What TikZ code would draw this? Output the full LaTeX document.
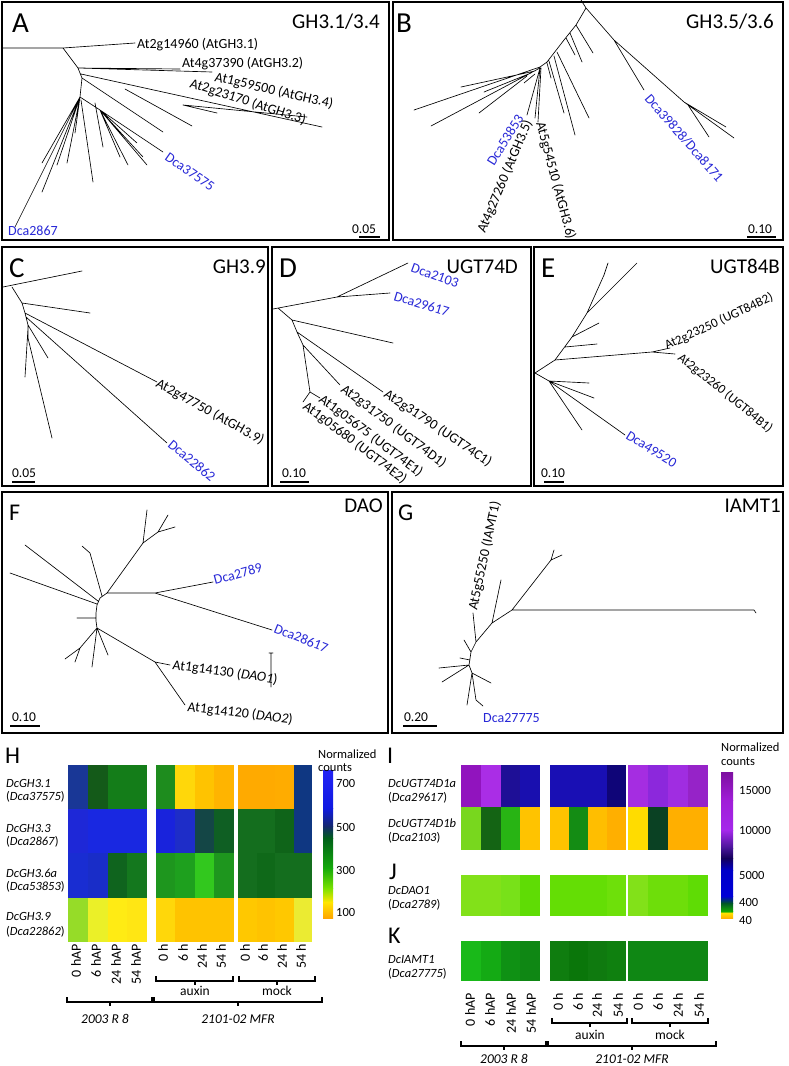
\documentclass[tikz,border=0pt]{standalone}
\usepackage{fontspec}
\setmainfont{Carlito}
\definecolor{dcablue}{RGB}{40,40,215}
\newcommand\hmq[8]{%
 \definecolor{hqa}{RGB}{#5}\definecolor{hqb}{RGB}{#6}\definecolor{hqc}{RGB}{#7}\definecolor{hqd}{RGB}{#8}%
 \fill[hqa] (#1,#3) rectangle ++(#2+0.3,#4-#3);%
 \fill[hqb] (#1+#2,#3) rectangle ++(#2+0.3,#4-#3);%
 \fill[hqc] (#1+2*#2,#3) rectangle ++(#2+0.3,#4-#3);%
 \fill[hqd] (#1+3*#2,#3) rectangle ++(#2,#4-#3);}
\newcommand\cbseg[6]{%
 \definecolor{cba}{RGB}{#5}\definecolor{cbb}{RGB}{#6}%
 \shade[top color=cba,bottom color=cbb] (#1,#3) rectangle (#2,#4+0.3);}
\newcommand\brkt[4]{% x1 x2 y mid
 \draw[brk] (#1,#3-5)--(#1,#3)--(#2,#3)--(#2,#3-5) (#4,#3)--(#4,#3+4);}
\tikzset{
 tr/.style={line width=0.65pt, draw=black, line cap=round},
 box/.style={line width=1.6pt, draw=black},
 plet/.style={font=\fontsize{29}{29}\selectfont, anchor=base west, inner sep=0pt},
 plets/.style={font=\fontsize{24}{24}\selectfont, anchor=base west, inner sep=0pt},
 ttl/.style={font=\fontsize{21}{21}\selectfont, anchor=base east, inner sep=0pt},
 lf/.style={font=\fontsize{14}{14}\selectfont, anchor=base west, inner sep=0pt},
 lfs/.style={font=\fontsize{13}{13}\selectfont, anchor=base west, inner sep=0pt},
 dca/.style={lf, text=dcablue},
 sb/.style={font=\fontsize{13.5}{13.5}\selectfont, anchor=base, inner sep=0pt},
 sbar/.style={line width=2pt},
 rl/.style={font=\fontsize{12.5}{12.5}\selectfont, anchor=base west, inner sep=0pt},
 ax/.style={font=\fontsize{14}{14}\selectfont, rotate=90, anchor=east, inner sep=0pt},
 cb/.style={font=\fontsize{12.5}{12.5}\selectfont, anchor=west, inner sep=0pt},
 brk/.style={line width=1.2pt},
 grp/.style={font=\fontsize{13.5}{13.5}\selectfont, anchor=base, inner sep=0pt},
}
\begin{document}
\begin{tikzpicture}[x=1pt,y=-1pt]
\useasboundingbox (0,0) rectangle (788,1066);
\fill[white] (0,0) rectangle (788,1066);
% ---------- panel boxes
\draw[box] (2,2) rectangle (389,240);
\draw[box] (393,2) rectangle (783,240);
\draw[box] (2,247) rectangle (268,486);
\draw[box] (272,247) rectangle (531,486);
\draw[box] (534,247) rectangle (783,486);
\draw[box] (2,492) rectangle (388,733);
\draw[box] (392,492) rectangle (783,733);
% ---------- A
\node[plet] (pA) at (12,32) {A};
\node[ttl] (tA) at (380,28) {GH3.1/3.4};
\draw[tr] (3,48)--(63,48)--(135,43)
 (63,48)--(78,68)--(180,69)
 (78,68)--(212,72)
 (78,68)--(82,78)--(80,97)
 (81,74)--(322,127)
 (183,105)--(307,117)
 (183,105)--(217,113)
 (125,89)--(192,126)
 (82,78)--(163,132)
 (80,97)--(100,110)
 (100,110)--(163,152) (100,110)--(147,165) (100,110)--(128,165) (100,110)--(143,157)
 (100,110)--(137,143) (100,110)--(120,157) (95,103)--(103,147)
 (80,97)--(15,227) (80,97)--(42,192) (80,97)--(42,163) (80,97)--(57,165)
 (80,97)--(67,163) (81,100)--(93,182) (80,97)--(75,133);
\node[lf] (a1) at (137,48) {At2g14960 (AtGH3.1)};
\node[lf] (a2) at (182,67) {At4g37390 (AtGH3.2)};
\node[lf,rotate=-13] (a3) at (214,81) {At1g59500 (AtGH3.4)};
\node[lf,rotate=-18] (a4) at (189,87) {At2g23170 (AtGH3.3)};
\node[dca,rotate=-35] (a5) at (164,159) {Dca37575};
\node[dca] (a6) at (8,235) {Dca2867};
\node[sb] (sA) at (364,233) {0.05};
\draw[sbar] (359,237)--(380,237);
% ---------- B
\node[plet] (pB) at (396,32) {B};
\node[ttl] (tB) at (774,28) {GH3.5/3.6};
\draw[tr] (581,0)--(586,8)
 (586,8)--(614,40)--(644,90)
 (614,40)--(684,102)--(734,138)
 (684,102)--(726,127) (688,105)--(709,137)
 (586,8)--(576,25)--(564,40)--(547,62)--(540,67)
 (576,25)--(593,53) (570,33)--(582,62) (566,38)--(575,55)
 (557,52)--(589,118) (554,56)--(575,135) (549,61)--(564,113) (547,63)--(551,78)
 (540,67)--(414,110) (540,68)--(431,126) (535,71)--(461,87) (531,73)--(484,92)
 (527,76)--(479,113) (535,74)--(524,83)
 (540,68)--(527,115) (540,68)--(535,118) (541,68)--(538,122);
\node[dca,rotate=58] (b1) at (494,167) {Dca53853};
\node[lf,rotate=67] (b2) at (485,234) {At4g27260 (AtGH3.5)};
\node[lf,rotate=-75] (b3) at (536,123) {At5g54510 (AtGH3.6)};
\node[dca,rotate=-49] (b4) at (644,99) {Dca39828/Dca8171};
\node[sb] (sB) at (760,233) {0.10};
\draw[sbar] (747,237)--(776,237);
% ---------- C
\node[plet] (pC) at (9,277) {C};
\node[ttl] (tC) at (266,273) {GH3.9};
\draw[tr] (3,287)--(82,271)
 (12,287)--(22,303)--(25,313)--(28,325)--(28,338)
 (22,303)--(90,313)
 (25,313)--(157,382)
 (26,317)--(167,443)
 (28,325)--(48,358)
 (28,328)--(25,377)
 (28,338)--(52,438);
\node[lf,rotate=-29] (c1) at (155,386) {At2g47750 (AtGH3.9)};
\node[dca,rotate=-40] (c2) at (167,446) {Dca22862};
\node[sb] (sC) at (24,477) {0.05};
\draw[sbar] (12,482)--(35,482);
% ---------- D
\node[plet] (pD) at (279,277) {D};
\node[ttl] (tD) at (518,273) {UGT74D};
\draw[tr] (273,309)--(337,297)--(408,263)
 (337,297)--(390,293)
 (278,308)--(292,320)--(297,332)--(303,345)--(310,392)
 (292,320)--(393,343)
 (297,332)--(383,392)
 (303,345)--(340,385)
 (310,392)--(320,398)
 (310,392)--(303,402);
\node[dca,rotate=-20] (d1) at (410,271) {Dca2103};
\node[dca,rotate=-17] (d2) at (393,300) {Dca29617};
\node[lf,rotate=-34] (d3) at (383,396) {At2g31790 (UGT74C1)};
\node[lf,rotate=-37] (d4) at (340,391) {At2g31750 (UGT74D1)};
\node[lf,rotate=-37] (d5) at (318,401) {At1g05675 (UGT74E1)};
\node[lf,rotate=-37] (d6) at (302,408) {At1g05680 (UGT74E2)};
\node[sb] (sD) at (294,477) {0.10};
\draw[sbar] (280,482)--(309,482);
% ---------- E
\node[plet] (pE) at (541,277) {E};
\node[ttl] (tE) at (780,273) {UGT84B};
\draw[tr] (535,373)--(555,360)--(572,337)--(587,313)--(604,275)--(608,263)
 (587,313)--(637,263)
 (572,337)--(599,323)
 (565,347)--(597,344)
 (555,360)--(652,352)--(670,348)
 (652,352)--(675,354)
 (535,373)--(549,381)--(589,383)
 (549,381)--(594,398)
 (549,381)--(582,430)
 (549,381)--(625,435);
\node[lfs,rotate=25] (e1) at (667,350) {At2g23250 (UGT84B2)};
\node[lfs,rotate=-39] (e2) at (677,359) {At2g23260 (UGT84B1)};
\node[dca,rotate=-32] (e3) at (625,438) {Dca49520};
\node[sb] (sE) at (553,477) {0.10};
\draw[sbar] (544,482)--(564,482);
% ---------- F
\node[plets] (pF) at (9,520) {F};
\node[ttl] (tF) at (383,512) {DAO};
\draw[tr] (107,593)--(100,598)--(97,605)--(96,613)--(96,621)--(97,628)
 (107,593)--(155,593)--(213,582)
 (155,593)--(272,630)
 (107,593)--(143,543)--(147,510)
 (143,543)--(158,532)--(168,515)
 (158,532)--(175,527)
 (102,596)--(90,553)--(82,546)
 (98,601)--(25,545)
 (97,604)--(10,573)
 (96,618)--(77,618)
 (97,628)--(155,662)--(170,665)
 (155,662)--(185,705)
 (97,628)--(108,655)
 (97,628)--(92,667)
 (97,628)--(80,648)--(65,659)
 (80,648)--(75,662)
 (271,653)--(271,687) (269,653)--(273,653);
\node[dca,rotate=15] (f1) at (215,585) {Dca2789};
\node[dca,rotate=-22] (f2) at (273,632) {Dca28617};
\node[lf,rotate=-8] (f3) at (172,669) {At1g14130 (\textit{DAO1})};
\node[lf,rotate=-7] (f4) at (187,711) {At1g14120 (\textit{DAO2})};
\node[sb] (sF) at (24,721) {0.10};
\draw[sbar] (10,726)--(40,726);
% ---------- G
\node[plets] (pG) at (398,520) {G};
\node[ttl] (tG) at (781,512) {IAMT1};
\draw[tr] (512,610)--(754,610)--(756,613)
 (512,610)--(551,560)--(554,550)
 (551,560)--(562,555)
 (512,610)--(492,623)--(476,642)--(471,652)--(469,665)--(472,673)
 (492,623)--(501,580)
 (476,642)--(473,613)
 (471,652)--(464,640)
 (469,665)--(439,668)
 (469,665)--(442,682)
 (470,660)--(460,658)
 (472,673)--(491,683)
 (472,673)--(476,700)--(483,706)
 (472,673)--(467,705);
\node[lf,rotate=78] (g1) at (477,611) {At5g55250 (IAMT1)};
\node[dca] (g2) at (483,722) {Dca27775};
\node[sb] (sG) at (416,721) {0.20};
\draw[sbar] (403,726)--(437,726);
% ---------- H heatmap
\node[plets] (pH) at (5,763) {H};
\hmq{68}{19.75}{765}{809}{25,55,150}{20,90,25}{20,125,25}{20,125,25}
\hmq{156}{19.4}{765}{809}{30,140,30}{255,215,10}{255,195,0}{255,180,0}
\hmq{238}{18.6}{765}{809}{255,170,0}{255,170,0}{255,172,0}{15,55,130}
\hmq{68}{19.75}{809}{853}{30,40,215}{25,40,225}{25,40,225}{25,40,225}
\hmq{156}{19.4}{809}{853}{25,35,220}{30,45,200}{20,70,70}{15,95,35}
\hmq{238}{18.6}{809}{853}{20,110,30}{20,110,30}{15,100,25}{15,55,130}
\hmq{68}{19.75}{853}{898}{25,45,210}{25,45,200}{15,100,30}{20,120,30}
\hmq{156}{19.4}{853}{898}{30,150,30}{30,160,30}{50,200,30}{30,150,30}
\hmq{238}{18.6}{853}{898}{20,110,30}{15,105,25}{20,110,30}{20,110,30}
\hmq{68}{19.75}{898}{942}{150,220,40}{235,240,40}{255,235,20}{255,230,20}
\hmq{156}{19.4}{898}{942}{255,215,10}{255,195,0}{255,195,0}{255,195,0}
\hmq{238}{18.6}{898}{942}{255,200,0}{255,195,0}{255,200,0}{235,235,50}
\node[rl] (h1) at (6,787) {\textit{DcGH3.1}};
\node[rl] (h1b) at (6,800) {(\textit{Dca37575})};
\node[rl] (h2) at (6,832) {\textit{DcGH3.3}};
\node[rl] (h2b) at (6,845) {(\textit{Dca2867})};
\node[rl] (h3) at (6,877) {\textit{DcGH3.6a}};
\node[rl] (h3b) at (6,890) {(\textit{Dca53853})};
\node[rl] (h4) at (6,920) {\textit{DcGH3.9}};
\node[rl] (h4b) at (6,935) {(\textit{Dca22862})};
% colour bar H
\cbseg{323}{333}{770}{808}{35,35,245}{15,25,225}
\cbseg{323}{333}{808}{826}{15,25,225}{20,40,110}
\cbseg{323}{333}{826}{838}{20,40,110}{0,95,25}
\cbseg{323}{333}{838}{868}{0,95,25}{20,170,10}
\cbseg{323}{333}{868}{888}{20,170,10}{120,225,0}
\cbseg{323}{333}{888}{902}{120,225,0}{255,230,0}
\cbseg{323}{333}{902}{918}{255,230,0}{255,165,0}
\node[cb] (hn) at (318,754) {Normalized};
\node[cb] (hc) at (318,768) {counts};
\node[cb] (h700) at (336,783) {700};
\node[cb] (h500) at (336,827) {500};
\node[cb] (h300) at (336,870) {300};
\node[cb] (h100) at (336,912) {100};
% axis H
\foreach \x/\t [count=\i] in {76/0 hAP,96/6 hAP,116/24 hAP,136/54 hAP,163/0 h,183/6 h,202/24 h,221/54 h,245/0 h,263/6 h,282/24 h,301/54 h}
 \node[ax] (hx\i) at (\x,944) {\t};
\brkt{156}{233}{981}{195}
\brkt{239}{315}{981}{277}
\node[grp] (hau) at (195,995) {auxin};
\node[grp] (hmo) at (277,995) {mock};
\brkt{67}{152}{1002}{110}
\brkt{154}{322}{1002}{238}
\node[grp] (hg1) at (105,1023) {\textit{2003 R 8}};
\node[grp] (hg2) at (238,1023) {\textit{2101-02 MFR}};
% ---------- I, J, K heatmaps
\node[plets] (pI) at (387,763) {I};
\node[plets] (pJ) at (389,879) {J};
\node[plets] (pK) at (388,943) {K};
\hmq{461}{19.75}{765}{807}{145,20,190}{170,45,230}{30,15,150}{25,15,175}
\hmq{550}{19}{765}{807}{25,15,180}{25,15,180}{25,15,180}{15,5,120}
\hmq{628}{20}{765}{807}{165,45,225}{140,40,220}{160,45,225}{150,35,200}
\hmq{461}{19.75}{807}{850}{120,215,30}{20,100,20}{40,180,20}{255,195,0}
\hmq{550}{19}{807}{850}{255,195,0}{20,140,20}{255,190,0}{255,175,0}
\hmq{628}{20}{807}{850}{255,220,0}{10,65,35}{255,175,0}{255,175,0}
\hmq{461}{19.75}{875}{916}{130,225,25}{130,225,25}{120,225,25}{95,220,5}
\hmq{550}{19}{875}{916}{100,222,5}{100,222,5}{100,222,5}{110,224,10}
\hmq{628}{20}{875}{916}{130,225,25}{110,222,10}{110,222,10}{95,220,5}
\hmq{461}{19.75}{941}{981}{25,185,25}{20,170,20}{15,145,20}{15,135,20}
\hmq{550}{19}{941}{981}{15,125,15}{10,118,10}{15,122,15}{15,128,15}
\hmq{628}{20}{941}{981}{15,135,20}{15,135,20}{15,135,20}{15,135,20}
\node[rl] (i1) at (388,787) {\textit{DcUGT74D1a}};
\node[rl] (i1b) at (388,801) {(\textit{Dca29617})};
\node[rl] (i2) at (388,827) {\textit{DcUGT74D1b}};
\node[rl] (i2b) at (388,841) {(\textit{Dca2103})};
\node[rl] (j1) at (388,894) {\textit{DcDAO1}};
\node[rl] (j1b) at (388,908) {(\textit{Dca2789})};
\node[rl] (k1) at (388,963) {\textit{DcIAMT1}};
\node[rl] (k1b) at (388,977) {(\textit{Dca27775})};
% colour bar I
\cbseg{721}{733}{772}{800}{125,15,160}{160,30,215}
\cbseg{721}{733}{800}{830}{160,30,215}{165,40,235}
\cbseg{721}{733}{830}{848}{165,40,235}{70,20,150}
\cbseg{721}{733}{848}{858}{70,20,150}{20,0,90}
\cbseg{721}{733}{858}{870}{20,0,90}{0,0,200}
\cbseg{721}{733}{870}{896}{0,0,200}{0,0,215}
\cbseg{721}{733}{896}{903}{0,0,215}{0,85,40}
\cbseg{721}{733}{903}{911}{0,85,40}{20,170,0}
\cbseg{721}{733}{911}{913}{20,170,0}{255,225,0}
\cbseg{721}{733}{913}{918}{255,225,0}{255,175,0}
\node[cb] (in) at (721,747) {Normalized};
\node[cb] (ic) at (721,762) {counts};
\node[cb] (i15) at (739,790) {15000};
\node[cb] (i10) at (739,830) {10000};
\node[cb] (i5) at (739,875) {5000};
\node[cb] (i400) at (739,902) {400};
\node[cb] (i40) at (739,920) {40};
\foreach \x/\t [count=\i] in {470/0 hAP,490/6 hAP,511/24 hAP,531/54 hAP,558/0 h,578/6 h,597/24 h,618/54 h,638/0 h,658/6 h,678/24 h,699/54 h}
 \node[ax] (ix\i) at (\x,993) {\t};
\brkt{552}{627}{1023}{590}
\brkt{632}{708}{1023}{670}
\node[grp] (iau) at (590,1039) {auxin};
\node[grp] (imo) at (670,1039) {mock};
\brkt{461}{546}{1046}{504}
\brkt{548}{716}{1046}{632}
\node[grp] (ig1) at (504,1063) {\textit{2003 R 8}};
\node[grp] (ig2) at (632,1063) {\textit{2101-02 MFR}};
\end{tikzpicture}
\end{document}
